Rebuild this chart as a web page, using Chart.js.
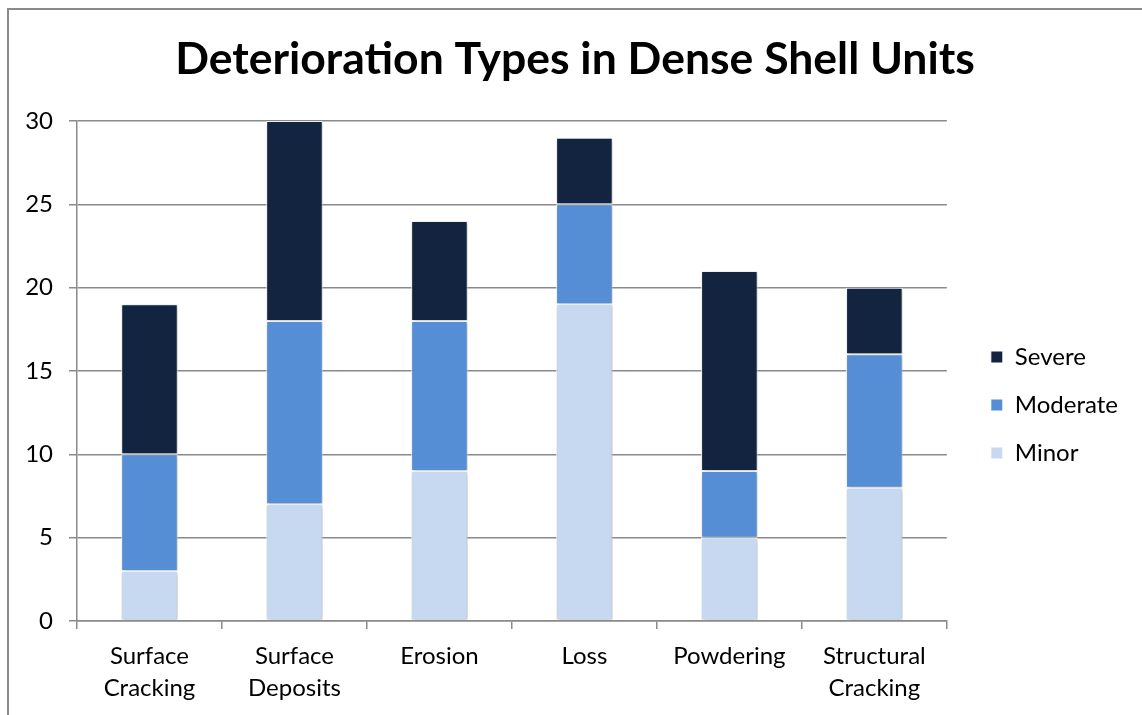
<!DOCTYPE html>
<html>
<head>
<meta charset="utf-8">
<title>Deterioration Types in Dense Shell Units</title>
<script src="https://cdn.jsdelivr.net/npm/chart.js@4/dist/chart.umd.min.js"></script>
<style>
  html, body { margin: 0; padding: 0; background: #ffffff; }
  #c { display: block; }
</style>
</head>
<body>
<canvas id="c" width="1142" height="715"></canvas>
<script>
// Categories and stacked counts per severity
const categories = [['Surface', 'Cracking'], ['Surface', 'Deposits'], 'Erosion', 'Loss', 'Powdering', ['Structural', 'Cracking']];
const minor    = [3, 7, 9, 19, 5, 8];
const moderate = [7, 11, 9, 6, 4, 8];
const severe   = [9, 12, 6, 4, 12, 4];
const yMin = 0, yMax = 30, yStep = 5;

const FONT = 'Lato, "Open Sans", sans-serif';
const AXIS_GRAY = '#8a8a8a';

// Thin gray frame along the top and left edges
const framePlugin = {
  id: 'frame',
  beforeDraw(chart) {
    const ctx = chart.ctx;
    ctx.save();
    ctx.strokeStyle = AXIS_GRAY;
    ctx.lineWidth = 2;
    ctx.beginPath();
    ctx.moveTo(8, chart.height);
    ctx.lineTo(8, 9);
    ctx.lineTo(chart.width, 9);
    ctx.stroke();
    ctx.restore();
  }
};

// Soft drop shadow under the bars
const shadowPlugin = {
  id: 'barShadow',
  beforeDatasetsDraw(chart) {
    const ctx = chart.ctx;
    ctx.save();
    ctx.shadowColor = 'rgba(0,0,0,0.28)';
    ctx.shadowBlur = 4;
    ctx.shadowOffsetX = 1;
    ctx.shadowOffsetY = 1;
  },
  afterDatasetsDraw(chart) {
    chart.ctx.restore();
  }
};

new Chart(document.getElementById('c'), {
  type: 'bar',
  data: {
    labels: categories,
    datasets: [
      { label: 'Minor',    data: minor,    backgroundColor: '#c6d9f1' },
      { label: 'Moderate', data: moderate, backgroundColor: '#558ed5' },
      { label: 'Severe',   data: severe,   backgroundColor: '#12243f' }
    ]
  },
  options: {
    responsive: false,
    animation: false,
    devicePixelRatio: 1,
    layout: { padding: { left: 22, right: 14, top: 0, bottom: 0 } },
    datasets: {
      bar: {
        barPercentage: 0.39,
        categoryPercentage: 1,
        borderColor: '#ffffff',
        borderWidth: 1,
        borderSkipped: false
      }
    },
    scales: {
      x: {
        stacked: true,
        offset: true,
        grid: {
          display: true,
          drawOnChartArea: false,
          drawTicks: true,
          tickLength: 8,
          color: AXIS_GRAY,
          lineWidth: 1.5,
          offset: true
        },
        border: { display: true, color: AXIS_GRAY, width: 1.5 },
        ticks: {
          color: '#000000',
          font: { family: FONT, size: 24, lineHeight: 1.3 },
          padding: 12,
          maxRotation: 0,
          autoSkip: false
        },
        afterFit(scale) { scale.height = 94; }
      },
      y: {
        stacked: true,
        min: yMin,
        max: yMax,
        grid: {
          color: AXIS_GRAY,
          lineWidth: 1.5,
          drawTicks: true,
          tickLength: 8
        },
        border: { display: true, color: AXIS_GRAY, width: 1.5 },
        ticks: {
          stepSize: yStep,
          color: '#000000',
          font: { family: FONT, size: 24 },
          padding: 16
        },
        afterFit(scale) { scale.width = 55; }
      },
      // empty spacer between the plot and the legend
      gap: {
        type: 'linear',
        position: 'right',
        display: true,
        grid: { display: false, drawTicks: false },
        border: { display: false },
        ticks: { display: false },
        afterFit(scale) { scale.width = 20; }
      }
    },
    plugins: {
      title: {
        display: true,
        text: 'Deterioration Types in Dense Shell Units',
        color: '#000000',
        font: { family: FONT, size: 44.5, weight: 'bold', lineHeight: 1.2 },
        padding: { top: 33, bottom: 34.6 }
      },
      legend: {
        position: 'right',
        reverse: true,
        title: {
          display: true,
          text: ' ',
          font: { family: FONT, size: 20, lineHeight: 1.2 },
          padding: { top: 71, bottom: 0 }
        },
        labels: {
          color: '#000000',
          font: { family: FONT, size: 24 },
          boxWidth: 12,
          boxHeight: 12,
          padding: 24
        }
      },
      tooltip: { enabled: false }
    }
  },
  plugins: [framePlugin, shadowPlugin]
});
</script>
</body>
</html>
